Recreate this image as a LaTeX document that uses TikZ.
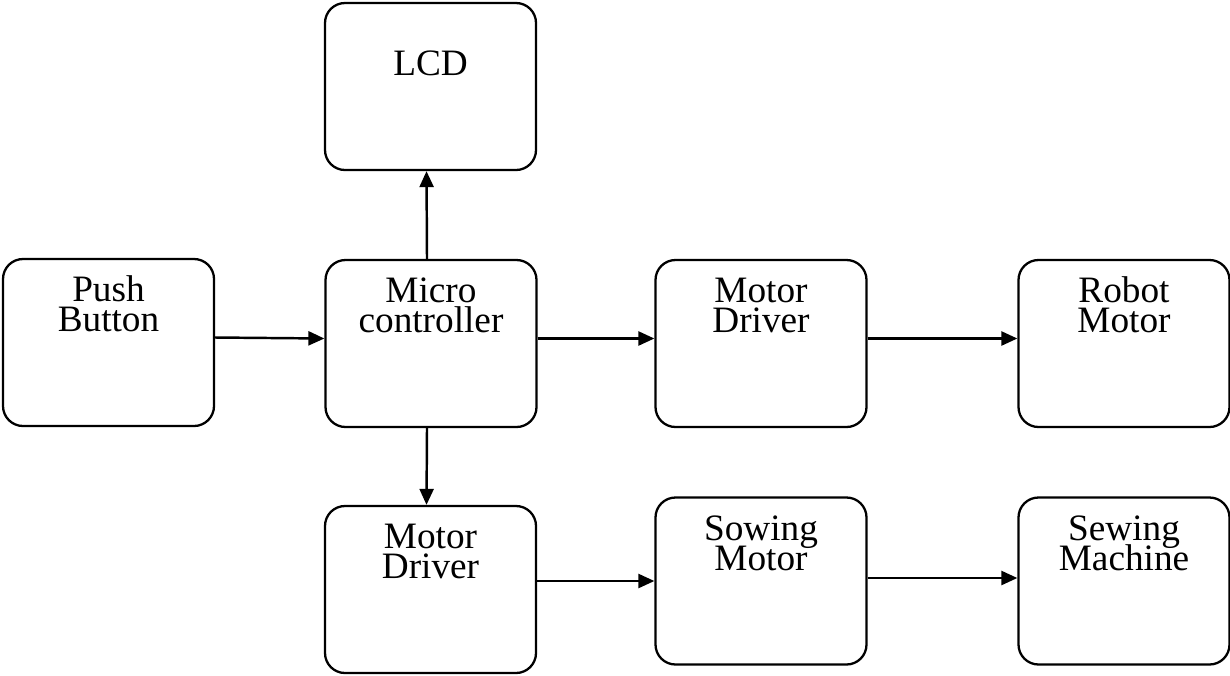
\documentclass[tikz,border=0pt]{standalone}
\usepackage{fontspec}
\setmainfont{Liberation Serif}
\usetikzlibrary{arrows.meta}

% tight two-line labels
\newcommand\blockfont{\fontsize{10.6}{8.6}\selectfont\lineskiplimit=-20pt\relax}

\begin{document}
\begin{tikzpicture}[
	block/.style={draw, line width=0.65pt, rounded corners=0.2cm,
		minimum width=2.11cm, minimum height=1.67cm,
		label={[anchor=base, align=center, yshift=-0.74cm,
			font=\blockfont]north:#1}},
	conn/.style={-{Triangle[length=0.16cm, width=0.14cm]}, line width=0.7pt}
]
	\useasboundingbox (0,0) rectangle (12.3,-6.75);

	\node[block={LCD}]                (lcd)    at (4.305,-0.865) {};
	\node[block={Push\\Button}]       (push)   at (1.085,-3.425) {};
	\node[block={Micro\\controller}]  (micro)  at (4.31,-3.435)  {};
	\node[block={Motor\\Driver}]      (drvA)   at (7.61,-3.435)  {};
	\node[block={Robot\\Motor}]       (robot)  at (11.24,-3.435) {};
	\node[block={Motor\\Driver}]      (drvB)   at (4.305,-5.895) {};
	\node[block={Sowing\\Motor}]      (sowing) at (7.61,-5.81)   {};
	\node[block={Sewing\\Machine}]    (sewing) at (11.24,-5.81)  {};

	\draw [conn] ([yshift=0.05cm]push.east)   -- ([yshift=0.05cm]micro.west);
	\draw [conn] ([xshift=-0.04cm]micro.north) -- ([xshift=-0.04cm]lcd.south);
	\draw [conn] ([yshift=0.05cm]micro.east)  -- ([yshift=0.05cm]drvA.west);
	\draw [conn] ([yshift=0.05cm]drvA.east)   -- ([yshift=0.05cm]robot.west);
	\draw [conn] ([xshift=-0.04cm]micro.south) -- ([xshift=-0.04cm]drvB.north);
	\draw [conn] (drvB.east |- sowing.west)    -- (sowing.west);
	\draw [conn] ([yshift=0.03cm]sowing.east) -- ([yshift=0.03cm]sewing.west);
\end{tikzpicture}
\end{document}
